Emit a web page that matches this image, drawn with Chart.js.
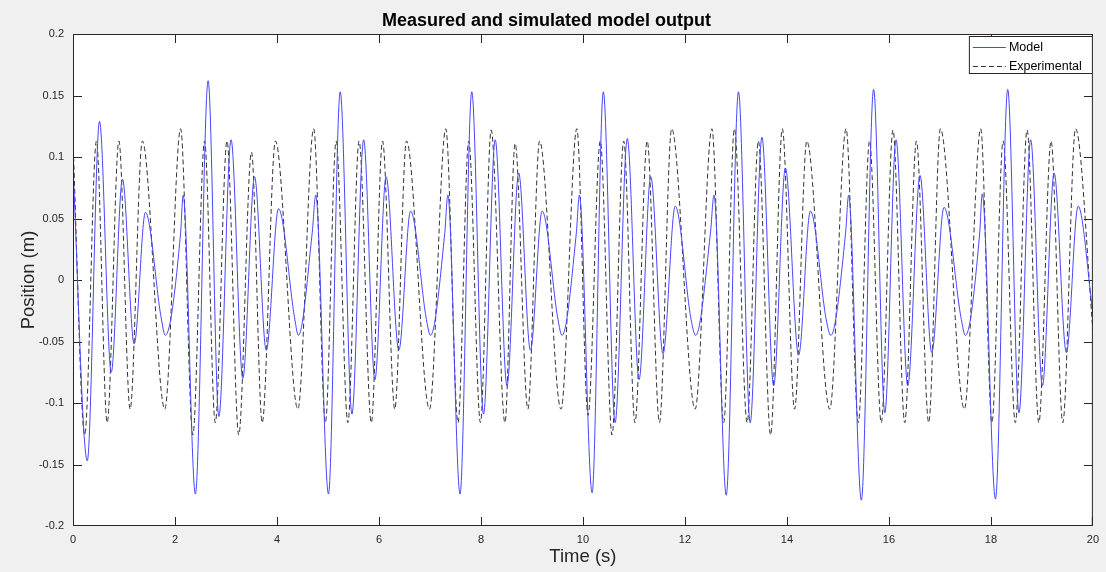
<!DOCTYPE html>
<html>
<head>
<meta charset="utf-8">
<script src="https://cdn.jsdelivr.net/npm/chart.js@4.4.0/dist/chart.umd.min.js"></script>
<style>
  html, body { margin: 0; padding: 0; background: #f0f0f0; }
  #wrap { width: 1106px; height: 572px; }
</style>
</head>
<body>
<div id="wrap"><canvas id="outputChart"></canvas></div>
<script>
// Values (peaks, troughs and shoulders)
const modelTime = [0.00, 0.28, 0.52, 0.75, 0.97, 1.20, 1.42, 1.73, 1.81, 2.11, 2.16, 2.40, 2.65, 2.86, 3.10, 3.33,
  3.56, 3.79, 4.03, 4.35, 4.42, 4.69, 4.76, 5.01, 5.24, 5.47, 5.70, 5.92, 6.14, 6.39, 6.62, 6.93, 7.01, 7.29, 7.35,
  7.59, 7.82, 8.05, 8.28, 8.51, 8.74, 8.97, 9.20, 9.51, 9.59, 9.87, 9.93, 10.18, 10.40, 10.63, 10.87, 11.10, 11.33,
  11.57, 11.81, 12.12, 12.21, 12.50, 12.57, 12.81, 13.05, 13.28, 13.51, 13.74, 13.97, 14.23, 14.46, 14.77, 14.86,
  15.15, 15.21, 15.46, 15.70, 15.92, 16.14, 16.37, 16.61, 16.84, 17.08, 17.42, 17.50, 17.78, 17.83, 18.09, 18.33,
  18.55, 18.78, 19.01, 19.24, 19.48, 19.71, 20.00];
const modelPos = [0.091, -0.147, 0.129, -0.075, 0.082, -0.052, 0.055, -0.031, -0.045, 0.038, 0.069, -0.174, 0.162, -0.111, 0.114, -0.080,
  0.084, -0.057, 0.058, -0.032, -0.045, 0.038, 0.069, -0.174, 0.153, -0.109, 0.114, -0.081, 0.084, -0.057, 0.056, -0.032, -0.045, 0.038, 0.069,
  -0.174, 0.153, -0.109, 0.114, -0.086, 0.087, -0.057, 0.056, -0.032, -0.045, 0.038, 0.069, -0.173, 0.153, -0.116, 0.115, -0.081, 0.084,
  -0.060, 0.060, -0.032, -0.045, 0.038, 0.069, -0.175, 0.153, -0.116, 0.116, -0.086, 0.091, -0.061, 0.056, -0.032, -0.045,
  0.038, 0.069, -0.179, 0.155, -0.108, 0.114, -0.086, 0.085, -0.059, 0.059, -0.032, -0.045, 0.038, 0.070, -0.178, 0.155,
  -0.108, 0.114, -0.086, 0.087, -0.059, 0.060, -0.027];

const expTime = [0.00, 0.23, 0.46, 0.67, 0.90, 1.12, 1.36, 1.80, 2.11, 2.35, 2.58, 2.79, 3.02, 3.25, 3.50, 3.71,
  3.97, 4.41, 4.72, 4.95, 5.16, 5.39, 5.61, 5.85, 6.07, 6.31, 6.54, 6.99, 7.31, 7.55, 7.76, 7.99, 8.20, 8.47,
  8.67, 8.92, 9.15, 9.57, 9.88, 10.10, 10.34, 10.57, 10.80, 11.02, 11.26, 11.50, 11.74, 12.20, 12.53, 12.76,
  12.97, 13.22, 13.44, 13.68, 13.91, 14.15, 14.39, 14.84, 15.16, 15.40, 15.62, 15.85, 16.08, 16.31, 16.54,
  16.78, 17.01, 17.48, 17.80, 18.02, 18.24, 18.48, 18.71, 18.94, 19.18, 19.41, 19.66, 20.00];
const expPos = [0.113, -0.126, 0.113, -0.116, 0.113, -0.105, 0.113, -0.105, 0.123, -0.126, 0.113, -0.116, 0.113, -0.126, 0.104, -0.116,
  0.113, -0.105, 0.123, -0.116, 0.113, -0.116, 0.113, -0.116, 0.113, -0.105, 0.113, -0.105, 0.123, -0.116, 0.113, -0.116, 0.122, -0.116,
  0.111, -0.105, 0.113, -0.105, 0.123, -0.110, 0.113, -0.126, 0.113, -0.116, 0.113, -0.116, 0.123, -0.105, 0.123, -0.116,
  0.123, -0.116, 0.113, -0.126, 0.123, -0.105, 0.113, -0.105, 0.123, -0.116, 0.113, -0.116, 0.122, -0.116, 0.113,
  -0.116, 0.123, -0.105, 0.123, -0.116, 0.113, -0.116, 0.122, -0.116, 0.113, -0.116, 0.123, -0.040];

const xTicks = [0, 2, 4, 6, 8, 10, 12, 14, 16, 18, 20];
const yTicks = [-0.2, -0.15, -0.1, -0.05, 0, 0.05, 0.1, 0.15, 0.2];
const yTickLabels = ['-0.2', '-0.15', '-0.1', '-0.05', '0', '0.05', '0.1', '0.15', '0.2'];

const FONT = "'Liberation Sans', Arial, Helvetica, sans-serif";
const AXIS_COLOR = '#262626';

// background, box, inward ticks and legend drawn MATLAB style
const matlabAxes = {
  id: 'matlabAxes',
  beforeDraw(chart) {
    const { ctx, chartArea: a } = chart;
    ctx.save();
    ctx.fillStyle = '#f0f0f0';
    ctx.fillRect(0, 0, chart.width, chart.height);
    ctx.fillStyle = '#ffffff';
    ctx.fillRect(a.left, a.top, a.right - a.left, a.bottom - a.top);
    ctx.restore();
  },
  beforeDatasetsDraw(chart) {
    const { ctx, chartArea: a, scales: { x, y } } = chart;
    const len = 9;
    const clamp = (v, lo, hi) => Math.min(Math.max(v, lo), hi);
    ctx.save();
    ctx.strokeStyle = AXIS_COLOR;
    ctx.lineWidth = 1;
    ctx.beginPath();
    xTicks.forEach(v => {
      const px = clamp(Math.round(x.getPixelForValue(v)) + 0.5, a.left + 0.5, a.right - 0.5);
      ctx.moveTo(px, a.bottom); ctx.lineTo(px, a.bottom - len);
      ctx.moveTo(px, a.top); ctx.lineTo(px, a.top + len);
    });
    yTicks.forEach(v => {
      const py = clamp(Math.round(y.getPixelForValue(v)) + 0.5, a.top + 0.5, a.bottom - 0.5);
      ctx.moveTo(a.left, py); ctx.lineTo(a.left + len, py);
      ctx.moveTo(a.right, py); ctx.lineTo(a.right - len, py);
    });
    ctx.stroke();
    ctx.restore();
  },
  afterDatasetsDraw(chart) {
    const { ctx, chartArea: a } = chart;
    ctx.save();
    ctx.strokeStyle = AXIS_COLOR;
    ctx.lineWidth = 1;
    ctx.strokeRect(a.left + 0.5, a.top + 0.5, a.right - a.left - 1, a.bottom - a.top - 1);

    // legend box in the top right corner
    const w = 124, h = 38;
    const lx = a.right - w, ly = a.top + 2;
    ctx.fillStyle = '#ffffff';
    ctx.fillRect(lx, ly, w, h);
    ctx.strokeRect(lx + 0.5, ly + 0.5, w - 1, h - 1);
    ctx.font = '12.5px ' + FONT;
    ctx.textBaseline = 'middle';
    ctx.textAlign = 'left';
    chart.data.datasets.forEach((ds, i) => {
      const rowY = ly + 11 + i * 19 + 0.5;
      ctx.beginPath();
      ctx.strokeStyle = ds.borderColor;
      ctx.lineWidth = 1;
      ctx.setLineDash(ds.borderDash || []);
      ctx.moveTo(lx + 4, rowY);
      ctx.lineTo(lx + 37, rowY);
      ctx.stroke();
      ctx.setLineDash([]);
      ctx.fillStyle = '#000000';
      ctx.fillText(ds.label, lx + 40, rowY);
    });
    ctx.restore();
  }
};

const data = {
  datasets: [
    {
      label: 'Model',
      data: modelTime.map((t, i) => ({ x: t, y: modelPos[i] })),
      borderColor: 'rgb(70, 70, 255)',
      borderWidth: 1,
      pointRadius: 0,
      cubicInterpolationMode: 'monotone'
    },
    {
      label: 'Experimental',
      data: expTime.map((t, i) => ({ x: t, y: expPos[i] })),
      borderColor: '#333333',
      borderWidth: 1,
      borderDash: [5, 3],
      pointRadius: 0,
      cubicInterpolationMode: 'monotone'
    }
  ]
};

const config = {
  type: 'line',
  data: data,
  options: {
    responsive: true,
    maintainAspectRatio: false,
    animation: false,
    layout: { padding: { left: 0, right: 13, top: 0, bottom: 0 } },
    plugins: {
      legend: { display: false },
      tooltip: { enabled: false },
      title: {
        display: true,
        text: 'Measured and simulated model output',
        color: '#000000',
        font: { family: FONT, size: 18, weight: 'bold', lineHeight: 1.2 },
        padding: { top: 10, bottom: 2.4 }
      }
    },
    scales: {
      x: {
        type: 'linear',
        min: 0,
        max: 20,
        afterBuildTicks: scale => { scale.ticks = xTicks.map(v => ({ value: v })); },
        afterFit: scale => { scale.height = 46; },
        grid: { display: false, drawTicks: false },
        border: { display: false },
        ticks: {
          color: AXIS_COLOR,
          font: { family: FONT, size: 11 },
          padding: 7,
          maxRotation: 0
        },
        title: {
          display: true,
          text: 'Time (s)',
          color: AXIS_COLOR,
          font: { family: FONT, size: 18.5, lineHeight: 1.2 },
          padding: { top: 0, bottom: 4 }
        }
      },
      y: {
        type: 'linear',
        min: -0.2,
        max: 0.2,
        afterBuildTicks: scale => { scale.ticks = yTicks.map(v => ({ value: v })); },
        afterFit: scale => { scale.width = 73; },
        grid: { display: false, drawTicks: false },
        border: { display: false },
        ticks: {
          color: AXIS_COLOR,
          font: { family: FONT, size: 11 },
          padding: 9,
          callback: (value, index) => yTickLabels[index]
        },
        title: {
          display: true,
          text: 'Position (m)',
          color: AXIS_COLOR,
          font: { family: FONT, size: 18.5, lineHeight: 1.2 },
          padding: { top: 18, bottom: 0 }
        }
      }
    }
  },
  plugins: [matlabAxes]
};

window.addEventListener('DOMContentLoaded', () => {
  const outputChart = new Chart(document.getElementById('outputChart'), config);
});
</script>
</body>
</html>
